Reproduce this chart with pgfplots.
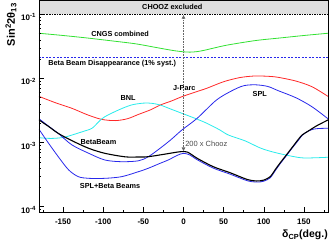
\documentclass[border=0pt]{standalone}
\usepackage{fontspec}
\setmainfont{Liberation Sans}
\usepackage{pgfplots}
\pgfplotsset{compat=1.18}
\usetikzlibrary{arrows.meta}

\definecolor{cred}{RGB}{255,40,40}
\definecolor{cgreen}{RGB}{50,225,50}
\definecolor{ccyan}{RGB}{40,235,235}
\definecolor{cblue}{RGB}{40,40,235}
\newcommand{\lab}{\bfseries\fontsize{7.3}{8}\selectfont}

\begin{document}
\begin{tikzpicture}
\useasboundingbox (-39pt,-28.7pt) rectangle (290pt,212.3pt);
\begin{axis}[
  scale only axis, width=289pt, height=211.8pt,
  xmin=-180, xmax=180, ymode=log, ymin=8.18e-5, ymax=0.164,
  axis on top, axis line style={line width=0.6pt},
  tick align=inside, xtick pos=bottom, ytick pos=left,
  xtick={-150,-100,-50,0,50,100,150},
  xticklabels={-150,-100,-50,0,50,100,150},
  minor xtick={-175,-125,-75,-25,25,75,125,175},
  ytick={1e-4,1e-3,1e-2,1e-1},
  yticklabels={10\textsuperscript{-4},10\textsuperscript{-3},10\textsuperscript{-2},10\textsuperscript{-1}},
  minor ytick={9e-5,2e-4,3e-4,4e-4,5e-4,6e-4,7e-4,8e-4,9e-4,2e-3,3e-3,4e-3,5e-3,6e-3,7e-3,8e-3,9e-3,2e-2,3e-2,4e-2,5e-2,6e-2,7e-2,8e-2,9e-2},
  ticklabel style={font=\bfseries\fontsize{8}{9}\selectfont},
  xticklabel style={yshift=-2.6pt},
  yticklabel style={yshift=-3pt, xshift=0.5pt},
  major tick length=5pt, minor tick length=2.5pt,
  tick style={line width=0.5pt, black},
  every axis plot/.append style={line width=0.8pt, no marks, smooth},
]
\fill[black!13] (axis cs:-180,0.1) rectangle (axis cs:180,0.164);
\draw[black, line width=0.6pt, dash pattern=on 1.5pt off 1pt] (axis cs:-180,0.1) -- (axis cs:180,0.1);
\draw[cblue, line width=0.7pt, dash pattern=on 2pt off 1.5pt] (axis cs:-180,0.0213) -- (axis cs:180,0.0213);

% CNGS combined
\addplot[cgreen] coordinates {(-180,0.0506) (-150,0.0467) (-120,0.0427) (-90,0.0386) (-60,0.0347) (-35,0.0305) (-20,0.0282) (-10,0.0269) (0,0.0260) (8,0.0257) (16,0.0261) (25,0.0273) (38,0.0298) (55,0.0332) (90,0.0390) (120,0.0427) (150,0.0467) (180,0.0506)};

% J-Parc
\addplot[cred] coordinates {(-180,5.25e-3) (-160,4.2e-3) (-139,3.42e-3) (-120,2.72e-3) (-102,2.3e-3) (-85,2.2e-3) (-70,2.35e-3) (-56,2.75e-3) (-40,3.28e-3) (-29,3.85e-3) (-15,4.45e-3) (-2,5.19e-3) (15,6.14e-3) (29,7.02e-3) (50,8.89e-3) (70,1.03e-2) (88,1.09e-2) (105,1.08e-2) (118,1.04e-2) (140,9.1e-3) (160,7.43e-3) (180,5.25e-3)};

% BNL
\addplot[ccyan] coordinates {(-180,1.19e-3) (-165,1.16e-3) (-150,1.2e-3) (-139,1.31e-3) (-125,1.49e-3) (-114,1.67e-3) (-105,2.15e-3) (-98,2.53e-3) (-81,3.22e-3) (-65,3.85e-3) (-50,4.12e-3) (-40,4.1e-3) (-29,3.85e-3) (-15,3.3e-3) (-2,2.86e-3) (15,2.37e-3) (29,2.0e-3) (45,1.58e-3) (56,1.31e-3) (77,1.06e-3) (97,8.1e-4) (118,6.8e-4) (146,5.8e-4) (165,5.8e-4) (180,5.9e-4)};

% SPL
\addplot[cblue] coordinates {(-180,2.35e-3) (-168,1.8e-3) (-156,1.39e-3) (-139,9.2e-4) (-118,6.8e-4) (-98,5.35e-4) (-77,5.03e-4) (-56,5.2e-4) (-44,6.0e-4) (-30,8.0e-4) (-16,1.1e-3) (-2,1.57e-3) (17,2.39e-3) (41,4.6e-3) (60,6.4e-3) (75,7.7e-3) (90,7.95e-3) (105,7.5e-3) (118,6.44e-3) (140,5.0e-3) (160,3.62e-3) (180,2.35e-3)};

% SPL + Beta Beams
\addplot[cblue] coordinates {(-180,1.61e-3) (-168,9.73e-4) (-156,6.02e-4) (-143,3.74e-4) (-131,2.94e-4) (-118,2.77e-4) (-98,2.77e-4) (-77,2.94e-4) (-56,3.52e-4) (-44,3.97e-4) (-30,4.7e-4) (-19,5.35e-4) (-8,6.3e-4) (0,6.8e-4) (8,6.4e-4) (17,5.4e-4) (37,4.0e-4) (58,3.22e-4) (79,2.55e-4) (91,2.42e-4) (100,2.5e-4) (108,2.82e-4) (114,3.6e-4) (120,4.6e-4) (128,6.2e-4) (136,8.4e-4) (143,1.08e-3) (148,1.3e-3) (155,1.5e-3) (162,1.62e-3) (170,1.66e-3) (180,1.67e-3)};

% BetaBeam
\addplot[black, line width=1.1pt] coordinates {(-180,2.25e-3) (-168,1.78e-3) (-156,1.39e-3) (-139,1.07e-3) (-118,8.13e-4) (-98,6.8e-4) (-73,6.0e-4) (-58,5.95e-4) (-44,6.02e-4) (-20,6.7e-4) (-4,7.2e-4) (5,7.1e-4) (17,5.69e-4) (37,4.21e-4) (58,3.39e-4) (79,2.67e-4) (91,2.52e-4) (100,2.6e-4) (108,2.94e-4) (114,3.74e-4) (120,4.75e-4) (128,6.38e-4) (136,8.6e-4) (143,1.12e-3) (148,1.32e-3) (155,1.5e-3) (165,1.8e-3) (180,2.25e-3)};

% 200 x Chooz arrow
\draw[black!60, line width=0.7pt, dash pattern=on 0.8pt off 0.8pt, {Triangle[length=3.5pt,width=3.5pt]}-{Triangle[length=3.5pt,width=3.5pt]}] (axis cs:0,0.097) -- (axis cs:0,7.4e-4);

\node[font=\lab] at (axis cs:-14,0.13) {CHOOZ excluded};
\node[font=\lab] at (axis cs:-79,0.0498) {CNGS combined};
\node[font=\lab, anchor=west, inner sep=0pt] at (axis cs:-168.7,0.0172) {Beta Beam Disappearance (1\% syst.)};
\node[font=\lab] at (axis cs:-69,4.9e-3) {BNL};
\node[font=\lab] at (axis cs:1,7.0e-3) {J-Parc};
\node[font=\lab] at (axis cs:95,5.71e-3) {SPL};
\node[font=\lab] at (axis cs:-106,1.01e-3) {BetaBeam};
\node[font=\lab] at (axis cs:-91.5,2.12e-4) {SPL+Beta Beams};
\node[font=\fontsize{7.5}{8}\selectfont, text=black!70, anchor=west, inner sep=0pt] at (axis cs:2,9.7e-4) {200 x Chooz};
\end{axis}
\node[font=\bfseries\fontsize{11}{12}\selectfont, rotate=90, anchor=east, inner sep=0pt] at (-28pt,209.5pt) {Sin\textsuperscript{2}2θ\textsubscript{13}};
\node[font=\bfseries\fontsize{10.5}{12}\selectfont, anchor=east, inner sep=0pt] at (289pt,-22.7pt) {δ\textsubscript{CP}(deg.)};
\end{tikzpicture}
\end{document}
